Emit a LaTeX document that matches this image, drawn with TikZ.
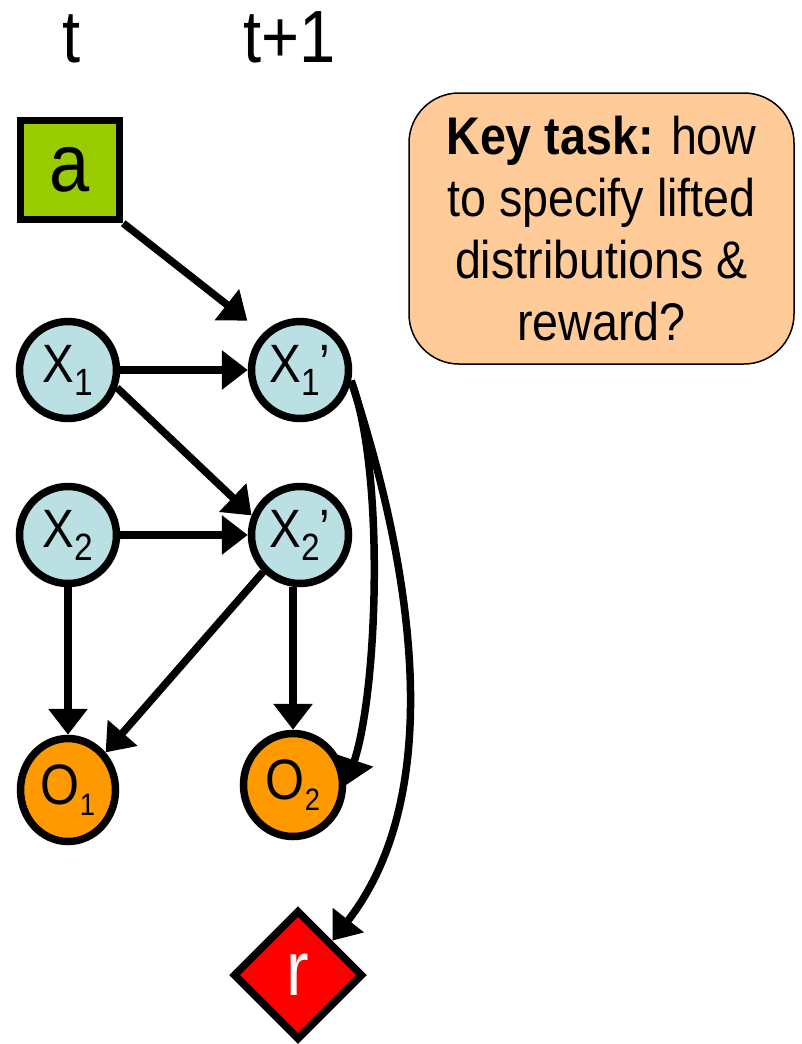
\documentclass[tikz,border=0pt]{standalone}
\usepackage{fontspec}
\setmainfont{Liberation Sans}[FakeStretch=0.88]
\usetikzlibrary{arrows.meta,shapes.geometric}
\definecolor{xblue}{HTML}{BAE0E3}
\definecolor{agreen}{HTML}{99CC00}
\definecolor{oorange}{HTML}{FF9900}
\definecolor{keypeach}{HTML}{FFCC99}
\newcommand\fs[1]{\fontsize{#1}{#1}\selectfont}
\newcommand\xlab[2]{{\fs{54}X\raisebox{-13pt}{\fs{38}#1}#2}}
\newcommand\olab[1]{{\fs{57}O\raisebox{-11pt}{\fs{31}#1}}}
\tikzset{
  arr/.style={line width=7.5pt, -{Triangle[length=26pt,width=38pt]}},
  xnode/.style={circle, draw, line width=7.5pt, fill=xblue, minimum size=97pt, inner sep=0pt},
  onode/.style={ellipse, draw, line width=7.5pt, fill=oorange, minimum width=#1, minimum height=103pt, inner sep=0pt},
  anode/.style={rectangle, draw, line width=7.5pt, fill=agreen, minimum size=99pt, inner sep=0pt},
  rnode/.style={diamond, draw, line width=7.5pt, fill=red, minimum width=130pt, minimum height=130pt, aspect=1, inner sep=0pt},
  keybox/.style={draw, line width=1.5pt, fill=keypeach, rounded corners=50pt, minimum width=385pt, minimum height=271pt, align=center, inner sep=0pt, font=\fontsize{53}{62}\selectfont},
  timelab/.style={inner sep=0pt, font=\fs{74}}
}
\begin{document}
\begin{tikzpicture}[x=1pt,y=-1pt]
\useasboundingbox (0,0) rectangle (802,1044);
\node[timelab] (tl) at (72,39) {t};
\node[timelab] (tl1) at (290,37) {t+1};
\node[anode] (a) at (70,170) {\fs{82}\raisebox{-6pt}{a}};
\node[xnode] (X1) at (68,370) {\xlab{1}{}};
\node[xnode] (X1p) at (300,370) {\xlab{1}{’}};
\node[xnode] (X2) at (68,535) {\xlab{2}{}};
\node[xnode] (X2p) at (300,535) {\xlab{2}{’}};
\node[onode=95pt] (O1) at (68,790) {\olab{1}};
\node[onode=99pt] (O2) at (293,785) {\olab{2}};
\node[rnode] (r) at (298,975) {\fs{77}\color{white}r};
\node[keybox] (key) at (601.5,228.5) {\textbf{Key task:} how\\to specify lifted\\distributions \&\\reward?};
\draw[arr, shorten >=20pt] (a.south east) -- (X1p.north west);
\draw[arr] (X1) -- (X1p);
\draw[arr] (X1.-20) -- (X2p.158);
\draw[arr] (X2) -- (X2p);
\draw[arr] (X2) -- (O1);
\draw[arr] (X2p.225) -- (O1.45);
\draw[arr] (X2p.south -| O2.north) -- (O2.north);
\draw[arr] (X1p.-12) .. controls (385,470) and (378,690) .. (O2.east);
\draw[arr] (X1p.-12) .. controls (410,560) and (450,790) .. (r.north east);
\end{tikzpicture}
\end{document}
